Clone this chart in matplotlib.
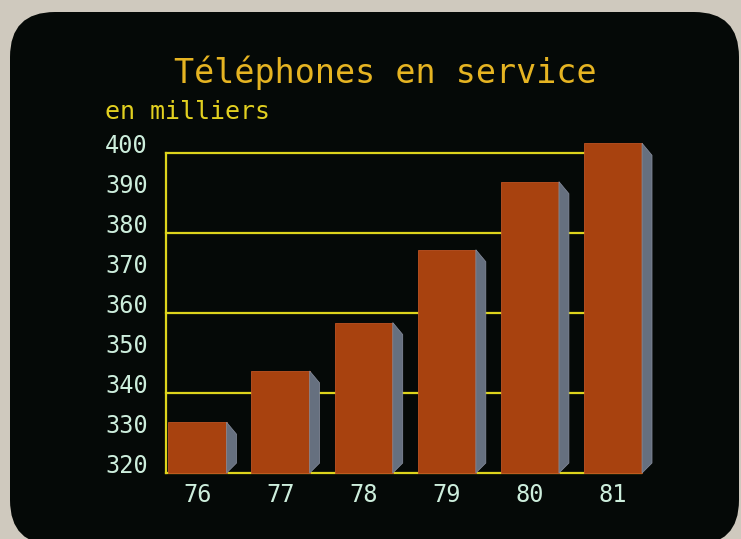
import matplotlib
matplotlib.use("Agg")
import matplotlib.pyplot as plt
from matplotlib.patches import FancyBboxPatch, Polygon
import numpy as np

# ---- data ----
years = ["76", "77", "78", "79", "80", "81"]
values = [332.7, 345.5, 357.6, 375.8, 392.8, 402.4]   # thousands of phones
ytick_values = [320, 330, 340, 350, 360, 370, 380, 390, 400]
ytick_labels = ["320", "330", "340", "350", "360", "370", "380", "390", "400"]
grid_levels = [340, 360, 380, 400]
title_text = "Téléphones en service"
unit_text = "en milliers"

# ---- style ----
BG = "#cfc9be"
SCREEN = "#050907"
YELLOW = "#ddd41c"
TITLE_C = "#e6b422"
UNIT_C = "#e2d020"
TICK_C = "#cdeedc"
FRONT = "#a8420f"
FRONT_EDGE = "#bf5322"
SIDE = "#66707f"
MONO = "DejaVu Sans Mono"

fig = plt.figure(figsize=(7.41, 5.39), dpi=100)
fig.patch.set_facecolor(BG)
screen = FancyBboxPatch((0.10, -0.06), 7.29, 5.33,
                        boxstyle="round,pad=0,rounding_size=0.45",
                        transform=fig.dpi_scale_trans,
                        fc=SCREEN, ec="none", zorder=-10)
fig.patches.append(screen)

ax = fig.add_axes([0.224, 0.1224, 0.641, 0.594])
ax.set_facecolor("none")
ax.set_xlim(-0.379, 5.337)
ax.set_ylim(320, 400)

x = np.arange(len(years))
width = 0.70
depth = 0.12
vals = np.array(values)
ax.bar(x, vals - 320, bottom=320, width=width, color=FRONT,
       edgecolor=FRONT_EDGE, linewidth=0.6, clip_on=False, zorder=3)
for xi, v in zip(x, vals):
    xr = xi + width / 2
    side = Polygon([(xr, v), (xr + depth, v - 3.0), (xr + depth, 322.5), (xr, 320)],
                   closed=True, fc=SIDE, ec="#8a90a0", lw=0.5,
                   clip_on=False, zorder=3)
    ax.add_patch(side)

for g in grid_levels:
    ax.axhline(g, color=YELLOW, lw=1.6, zorder=1, clip_on=False)

for s in ["top", "right"]:
    ax.spines[s].set_visible(False)
for s in ["left", "bottom"]:
    ax.spines[s].set_color(YELLOW)
    ax.spines[s].set_linewidth(1.6)
ax.spines["left"].set_bounds(320, 400)

ax.set_xticks(x)
ax.set_xticklabels(years, family=MONO, fontsize=17, color=TICK_C)
ax.set_yticks(ytick_values)
ax.set_yticklabels(ytick_labels, family=MONO, fontsize=17, color=TICK_C,
                   va="baseline")
ax.tick_params(axis="both", length=0)
ax.tick_params(axis="y", pad=13)
ax.tick_params(axis="x", pad=7)

fig.text(0.52, 0.865, title_text, family=MONO, fontsize=24, color=TITLE_C,
         ha="center", va="center")
fig.text(0.142, 0.792, unit_text, family=MONO, fontsize=18, color=UNIT_C,
         ha="left", va="center")

fig.savefig("out.png", dpi=100, facecolor=fig.get_facecolor())
